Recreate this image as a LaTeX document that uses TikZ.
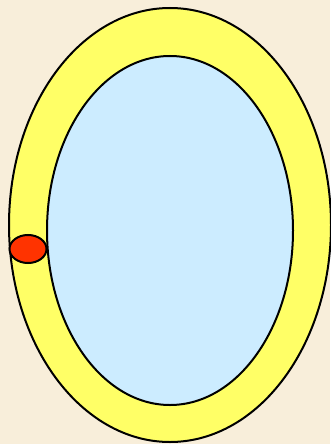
\documentclass[tikz,border=0pt]{standalone}
\definecolor{parch}{RGB}{248,238,218}
\definecolor{ringyellow}{RGB}{255,255,102}
\definecolor{coreblue}{RGB}{204,236,255}
\definecolor{spotred}{RGB}{255,51,0}
\begin{document}
\begin{tikzpicture}[x=1pt, y=-1pt, line width=2pt]
    \fill[parch] (0,0) rectangle (330,444);
    \useasboundingbox (0,0) rectangle (330,444);
    \draw[fill=ringyellow] (170,225) ellipse (161 and 217);
    \draw[fill=coreblue] (170,230.5) ellipse (123 and 174.5);
    \draw[fill=spotred] (28,249) ellipse (18.5 and 14);
\end{tikzpicture}
\end{document}
